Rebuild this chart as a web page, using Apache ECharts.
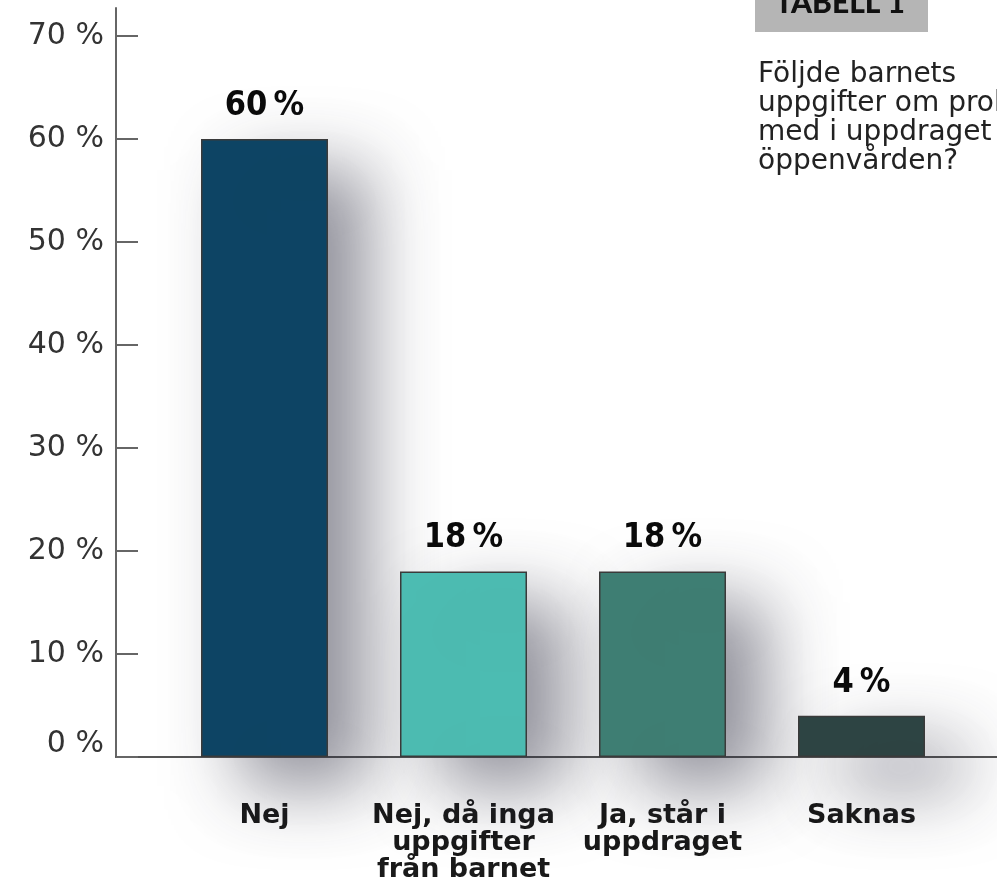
<!DOCTYPE html>
<html>
<head>
<meta charset="utf-8">
<script src="https://cdn.jsdelivr.net/npm/echarts@6/dist/echarts.min.js"></script>
<style>html,body{margin:0;padding:0;background:#fff;}#c{width:997px;height:892px;}</style>
</head>
<body>
<div id="c"></div>
<script>
const categories = ['Nej', 'Nej, då inga\nuppgifter\nfrån barnet', 'Ja, står i\nuppdraget', 'Saknas'];
const values = [60, 18, 18, 4];
const barColors = ['#0e4565', '#4dbdb3', '#3f7f74', '#2e4544'];
const yTicks = { min: 0, max: 70, interval: 10 };
const titleTag = 'TABELL 1';
const questionLines = ['Följde barnets', 'uppgifter om problem', 'med i uppdraget', 'öppenvården?'];

const chart = echarts.init(document.getElementById('c'), null, { renderer: 'canvas' });
chart.setOption({
  backgroundColor: '#ffffff',
  animation: false,
  grid: [
    { left: 165, right: 36, top: 36, bottom: 135 },
    { left: 116, right: 0, top: 8, bottom: 135 }
  ],
  xAxis: [
    {
      type: 'category', gridIndex: 0, data: categories,
      axisLine: { show: false }, axisTick: { show: false },
      axisLabel: {
        margin: 45, color: '#1a1a1a', fontFamily: "'DejaVu Sans', sans-serif", fontWeight: 'bold',
        fontSize: 27, lineHeight: 27, interval: 0
      }
    },
    {
      type: 'value', gridIndex: 1, min: 0, max: 1,
      axisLine: { show: true, lineStyle: { color: '#555', width: 2 } },
      axisTick: { show: false }, axisLabel: { show: false }, splitLine: { show: false }
    }
  ],
  yAxis: [
    {
      type: 'value', gridIndex: 0, min: yTicks.min, max: yTicks.max, interval: yTicks.interval,
      offset: 49,
      axisLine: { show: false },
      axisTick: { show: true, inside: true, length: 22, lineStyle: { color: '#666', width: 2 } },
      axisLabel: {
        formatter: v => v === yTicks.min ? '{z|' + v + ' %}' : v + ' %',
        rich: { z: { padding: [0, 0, 26, 0], fontFamily: "'DejaVu Sans', sans-serif", fontSize: 30, color: '#333' } },
        margin: 12, color: '#333', fontFamily: "'DejaVu Sans', sans-serif", fontSize: 30
      },
      splitLine: { show: false }
    },
    {
      type: 'value', gridIndex: 1, min: 0, max: 1,
      axisLine: { show: true, onZero: false, lineStyle: { color: '#666', width: 2 } },
      axisTick: { show: false }, axisLabel: { show: false }, splitLine: { show: false }
    }
  ],
  series: [{
    type: 'bar', xAxisIndex: 0, yAxisIndex: 0,
    data: values.map((v, i) => ({ value: v, itemStyle: { color: barColors[i] } })),
    barWidth: 127,
    itemStyle: {
      borderColor: '#3a3a3a', borderWidth: 1.5,
      shadowBlur: 70, shadowColor: 'rgba(40,40,60,0.5)', shadowOffsetX: 40, shadowOffsetY: 30
    },
    label: {
      show: true, position: 'top', distance: 16,
      formatter: '{c}\u2009%', color: '#0a0a0a',
      fontFamily: "'DejaVu Sans Condensed', 'Liberation Sans Narrow', sans-serif",
      fontWeight: 'bold', fontSize: 34
    }
  }],
  graphic: [
    { type: 'rect', left: 755, top: 0, shape: { width: 173, height: 32 }, style: { fill: '#b5b5b5' } },
    { type: 'text', style: { x: 775, y: 3, text: titleTag, font: "900 30px Lato, sans-serif", fill: '#111', verticalAlign: 'middle' } },
    { type: 'text', style: {
        x: 758, y: 60, text: questionLines.join('\n'), font: "28px 'DejaVu Sans', sans-serif",
        lineHeight: 29, fill: '#222' } }
  ]
});
</script>
</body>
</html>
